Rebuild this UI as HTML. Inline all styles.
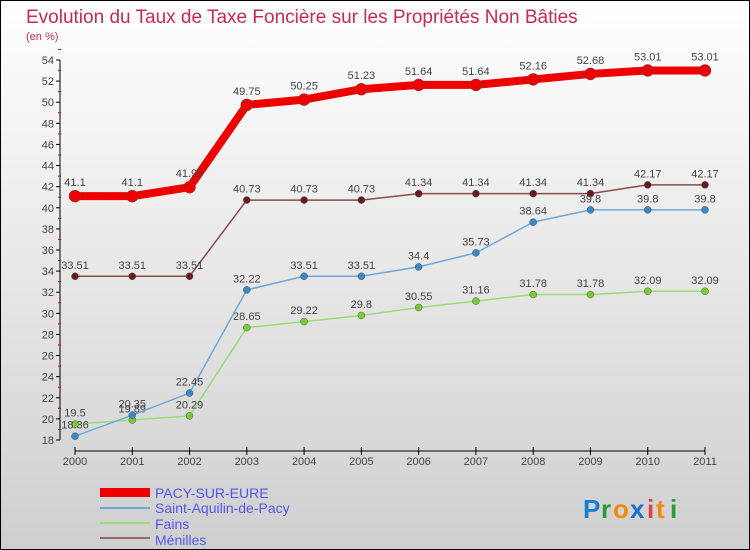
<!DOCTYPE html>
<html><head><meta charset="utf-8">
<style>
body{margin:0;padding:0}
#wrap{width:750px;height:550px;position:relative;overflow:hidden;font-family:"Liberation Sans",sans-serif}
</style></head>
<body>
<div id="wrap">
<svg id="chart" width="750" height="550" xmlns="http://www.w3.org/2000/svg">
<defs>
<linearGradient id="bg" x1="0" y1="0" x2="0" y2="1">
<stop offset="0" stop-color="#ffffff"/><stop offset="1" stop-color="#cfcfcf"/>
</linearGradient>
</defs>
<rect x="0.5" y="0.5" width="749" height="549" fill="url(#bg)" stroke="#000"/>
<text x="26" y="23" font-size="19" fill="#c8285a">Evolution du Taux de Taxe Foncière sur les Propriétés Non Bâties</text>
<text x="26" y="40" font-size="11" fill="#c8285a">(en %)</text>
<g id="axes"></g>
<g id="series"></g>
<g id="legend">
<rect x="100" y="488" width="50" height="9" fill="#ee0000"/>
<text x="155" y="498" font-size="14" fill="#5555ee">PACY-SUR-EURE</text>
<rect x="100" y="507" width="50" height="2" fill="#6fa8d8"/>
<text x="155" y="513" font-size="14" fill="#5555ee">Saint-Aquilin-de-Pacy</text>
<rect x="100" y="522" width="50" height="2" fill="#99dd77"/>
<text x="155" y="529" font-size="14" fill="#5555ee">Fains</text>
<rect x="100" y="537" width="50" height="2" fill="#996666"/>
<text x="155" y="545" font-size="14" fill="#5555ee">Ménilles</text>
</g>
<g font-size="26" font-weight="bold">
<text x="583" y="518" fill="#1a7fd0">P</text><text x="601" y="518" fill="#2a9a3a">r</text><text x="613" y="518" fill="#f08a10">o</text><text x="630" y="518" fill="#1a6fd0">x</text><text x="647" y="518" fill="#e04040">i</text><text x="656" y="518" fill="#f08a10">t</text><text x="670" y="518" fill="#2a9a3a">i</text>
</g>
</svg>
</div>
<script>
const years=["2000","2001","2002","2003","2004","2005","2006","2007","2008","2009","2010","2011"];
const yTicks=[18,20,22,24,26,28,30,32,34,36,38,40,42,44,46,48,50,52,54];
const pacy=[41.1,41.1,41.95,49.75,50.25,51.23,51.64,51.64,52.16,52.68,53.01,53.01];
const saintAquilin=[18.36,20.35,22.45,32.22,33.51,33.51,34.4,35.73,38.64,39.8,39.8,39.8];
const fains=[19.5,19.89,20.29,28.65,29.22,29.8,30.55,31.16,31.78,31.78,32.09,32.09];
const menilles=[33.51,33.51,33.51,40.73,40.73,40.73,41.34,41.34,41.34,41.34,42.17,42.17];
const NS="http://www.w3.org/2000/svg";
function xs(i){return 75+i*(705-75)/(years.length-1);}
function ys(v){return 440-(v-18)*(380/36);}
function mk(tag,attrs,parent){const e=document.createElementNS(NS,tag);for(const k in attrs)e.setAttribute(k,attrs[k]);parent.appendChild(e);return e;}
const ax=document.getElementById('axes');
let l=mk('line',{x1:60,y1:ys(54),x2:60,y2:ys(18),stroke:'#000','stroke-width':1},ax);


yTicks.forEach(v=>{
 mk('line',{x1:56,x2:60,y1:ys(v),y2:ys(v),stroke:'#000'},ax);
 mk('line',{x1:58,x2:61,y1:ys(v+1),y2:ys(v+1),stroke:'#e00000'},ax);
 const t=mk('text',{x:54,y:ys(v)+4,'font-size':11,fill:'#444','text-anchor':'end'},ax);
 t.textContent=v;
 
 
});
l=mk('line',{x1:75,y1:451,x2:705,y2:451,stroke:'#000'},ax);


years.forEach((y,i)=>{
 mk('line',{x1:xs(i),x2:xs(i),y1:447,y2:455,stroke:'#000'},ax);
 const t=mk('text',{x:xs(i),y:465,'font-size':11,fill:'#444','text-anchor':'middle'},ax);
 t.textContent=y;
 
 
});
const sg=document.getElementById('series');
function draw(vals,name,color,dot,w,r){
 const g=mk('g',{},sg);
 
 
 const p=mk('polyline',{points:vals.map((v,i)=>xs(i)+','+ys(v)).join(' '),fill:'none',stroke:color,'stroke-width':w,'stroke-linejoin':'round'},g);
 
 
 vals.forEach((v,i)=>{
  const c=mk('circle',{cx:xs(i),cy:ys(v),r:r,fill:dot,stroke:'#555','stroke-width':0.5},g);
  
  
  const t=mk('text',{x:xs(i),y:ys(v)-r-4,'font-size':11,fill:'#444','text-anchor':'middle'},g);
  t.textContent=String(v);
  
  
 });
}
draw(menilles,'menilles','#8a4a4a','#6a1a1a',1.5,3.5);
draw(fains,'fains','#99dd77','#77cc33',1.5,3.5);
draw(saintAquilin,'saint-aquilin','#6fa8d8','#3a88c8',1.5,3.5);
draw(pacy,'pacy','#ee0000','#ee0000',8,6);
</script>
</body></html>
